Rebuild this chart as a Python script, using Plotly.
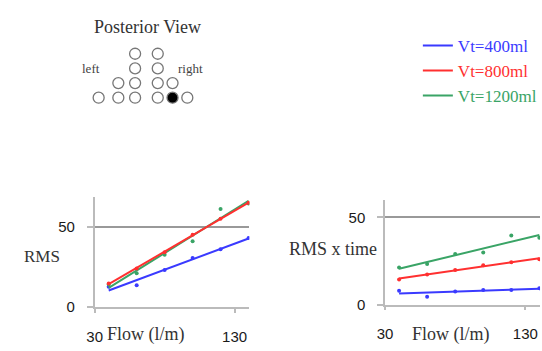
import numpy as np
import plotly.graph_objects as go

W, H = 542, 351

# ---------------- data ----------------
flow = [40, 60, 80, 100, 120, 140]
series_names = ["Vt=400ml", "Vt=800ml", "Vt=1200ml"]
series_colors = ["#3a3aff", "#ff3030", "#3aa466"]

rms_400 = [12.5, 13.5, 23.0, 30.5, 36.0, 43.0]
rms_800 = [14.5, 24.0, 34.0, 45.0, 55.0, 65.0]
rms_1200 = [14.0, 21.0, 32.5, 41.0, 61.0, 64.5]

rmst_400 = [8.0, 4.5, 7.5, 8.4, 8.4, 9.3]
rmst_800 = [14.4, 17.3, 19.8, 22.5, 24.3, 26.0]
rmst_1200 = [21.2, 23.3, 28.9, 29.9, 39.5, 38.3]

x_ticks = [30, 130]
x_ticklabels = ["30", "130"]
y_ticks = [0, 50]

# electrode diagram (posterior view), positions in diagram units
elec_x = [129, 152, 129, 152, 112, 129, 152, 167, 92, 112, 129, 152, 167, 182]
elec_y = [55, 55, 70, 70, 85, 85, 85, 85, 100, 100, 100, 100, 100, 100]
elec_active = [0, 0, 0, 0, 0, 0, 0, 0, 0, 0, 0, 0, 1, 0]

SERIF = "Liberation Serif"
SANS = "Liberation Sans"


def px(x):
    return x / W


def py(y):
    return (H - y) / H


fig = go.Figure()


def add_panel(xa, ya, series, show_legend):
    order = [0, 2, 1]
    for i in order:
        vals = series[i]
        coef = np.polyfit(flow, vals, 1)
        fit = np.polyval(coef, [flow[0], flow[-1]])
        fig.add_trace(go.Scatter(
            x=flow, y=vals, mode="markers", xaxis=xa, yaxis=ya,
            marker=dict(size=4, color=series_colors[i]),
            showlegend=False, hoverinfo="skip"))
        fig.add_trace(go.Scatter(
            x=[flow[0], flow[-1]], y=fit, mode="lines", xaxis=xa, yaxis=ya,
            line=dict(color=series_colors[i], width=2),
            name="<span style='color:%s'>%s</span>" % (series_colors[i], series_names[i]),
            legendrank=i,
            showlegend=show_legend, hoverinfo="skip"))


add_panel("x", "y", [rms_400, rms_800, rms_1200], True)
add_panel("x2", "y2", [rmst_400, rmst_800, rmst_1200], False)

# electrode diagram
fig.add_trace(go.Scatter(
    x=elec_x, y=elec_y, mode="markers", xaxis="x3", yaxis="y3",
    marker=dict(size=11, color=["#000000" if a else "#ffffff" for a in elec_active],
                line=dict(color="#777777", width=1.3)),
    showlegend=False, hoverinfo="skip"))

axis_common = dict(
    showline=True, linecolor="#bbbbbb", linewidth=1.5,
    ticks="outside", tickcolor="#bbbbbb", tickwidth=1.5,
    tickfont=dict(family=SANS, size=15, color="#1a1a1a"),
    zeroline=False, fixedrange=True,
)

xaxis_common = dict(axis_common, tickvals=x_ticks, ticktext=x_ticklabels,
                    ticklen=4, showgrid=False, ticklabelstandoff=11)
yaxis_common = dict(axis_common, tickvals=y_ticks, ticklen=6,
                    showgrid=True, gridcolor="#999999", gridwidth=1.5,
                    ticklabelstandoff=9)

fig.update_layout(
    width=W, height=H,
    margin=dict(l=0, r=0, t=0, b=0),
    paper_bgcolor="white", plot_bgcolor="white",
    xaxis=dict(xaxis_common, domain=[px(88), px(245)], range=[30, 140.6], anchor="y"),
    yaxis=dict(yaxis_common, domain=[py(314), py(202)], range=[0, 68.3], anchor="x"),
    xaxis2=dict(xaxis_common, domain=[px(382.7), px(540)], range=[30, 140.5], anchor="y2"),
    yaxis2=dict(yaxis_common, domain=[py(311.7), py(205)], range=[0, 59.7], anchor="x2"),
    xaxis3=dict(domain=[px(60), px(220)], range=[60, 220], visible=False, fixedrange=True, anchor="y3"),
    yaxis3=dict(domain=[py(120), py(0)], range=[120, 0], visible=False, fixedrange=True, anchor="x3"),
    showlegend=True,
    legend=dict(x=px(416), y=py(28.5), xanchor="left", yanchor="top",
                font=dict(family=SERIF, size=17), bgcolor="rgba(0,0,0,0)",
                itemclick=False, itemdoubleclick=False),
)

annotations = [
    dict(text="Posterior View", x=142, y=28, xref="x3", yref="y3",
         font=dict(family=SERIF, size=18, color="#333333")),
    dict(text="left", x=84, y=70, xref="x3", yref="y3",
         font=dict(family=SERIF, size=13, color="#444444")),
    dict(text="right", x=185, y=70, xref="x3", yref="y3",
         font=dict(family=SERIF, size=13, color="#444444")),
    dict(text="RMS", x=px(35), y=py(262), xref="paper", yref="paper",
         font=dict(family=SERIF, size=17, color="#333333")),
    dict(text="RMS x time", x=px(330), y=py(255), xref="paper", yref="paper",
         font=dict(family=SERIF, size=18, color="#333333")),
    dict(text="Flow (l/m)", x=px(140), y=py(342), xref="paper", yref="paper",
         font=dict(family=SERIF, size=18, color="#333333")),
    dict(text="Flow (l/m)", x=px(450), y=py(342), xref="paper", yref="paper",
         font=dict(family=SERIF, size=18, color="#333333")),
]
for a in annotations:
    a.update(showarrow=False, xanchor="center", yanchor="middle")
fig.update_layout(annotations=annotations)

fig.write_html("out.html")
